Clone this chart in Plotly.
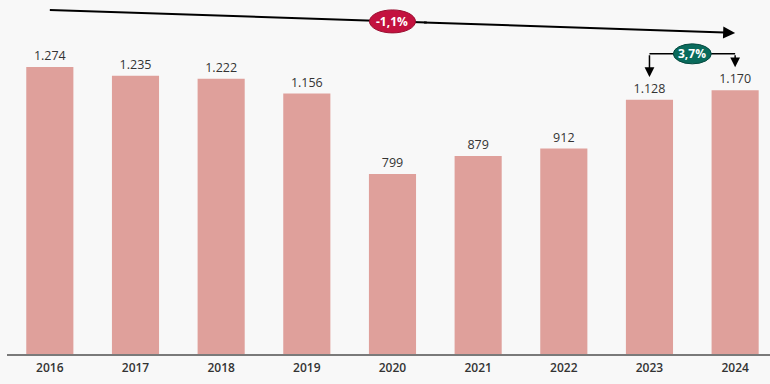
import plotly.graph_objects as go

years = ["2016", "2017", "2018", "2019", "2020", "2021", "2022", "2023", "2024"]
values = [1274, 1235, 1222, 1156, 799, 879, 912, 1128, 1170]
cagr_label = "-1,1%"
yoy_label = "3,7%"

BAR = "#dfa09b"
BG = "#f8f8f8"
TXT = "#333333"

fig = go.Figure()
fig.add_trace(go.Bar(
    x=list(range(len(years))), y=values,
    marker=dict(color=BAR, line=dict(width=0)),
    texttemplate="%{y:,}", textposition="outside",
    textfont=dict(family="Open Sans", size=12.5, color=TXT, weight=500),
    cliponaxis=False, width=0.55, hoverinfo="skip",
))

n = len(years)
y_top = 1527
y_end = 1425
def line_y(x):
    return y_top + (y_end - y_top) * x / (n - 1)

shapes = []
shapes.append(dict(type="line", xref="x", yref="y", x0=0, y0=line_y(0), x1=4.4, y1=line_y(4.4),
                   line=dict(color="black", width=2), layer="above"))
shapes.append(dict(type="circle", xref="x", yref="y", xsizemode="pixel", ysizemode="pixel",
                   xanchor=4.0, yanchor=line_y(4.0), x0=-23, x1=23, y0=-11.5, y1=11.5,
                   fillcolor="#c3123f", line=dict(color="#9a0e30", width=1), layer="above"))
yb = 1332
shapes.append(dict(type="line", xref="x", yref="y", x0=7, y0=yb, x1=8, y1=yb,
                   line=dict(color="black", width=1.5), layer="above"))
shapes.append(dict(type="circle", xref="x", yref="y", xsizemode="pixel", ysizemode="pixel",
                   xanchor=7.5, yanchor=yb, x0=-19, x1=19, y0=-10, y1=10,
                   fillcolor="#0a6b5c", line=dict(color="#064a40", width=1), layer="above"))

annotations = []
annotations.append(dict(x=8, y=line_y(8), ax=4.35, ay=line_y(4.35), xref="x", yref="y",
                        axref="x", ayref="y", text="", showarrow=True, arrowhead=2,
                        arrowsize=1.2, arrowwidth=2, arrowcolor="black"))
annotations.append(dict(x=4.0, y=line_y(4.0), xref="x", yref="y", text=f"<b>{cagr_label}</b>",
                        showarrow=False, font=dict(family="Open Sans", size=12, color="white")))
annotations.append(dict(x=7, y=1229, ax=7, ay=yb, xref="x", yref="y", axref="x", ayref="y",
                        text="", showarrow=True, arrowhead=2, arrowsize=1.3, arrowwidth=1.5,
                        arrowcolor="black"))
annotations.append(dict(x=8, y=1272, ax=8, ay=yb, xref="x", yref="y", axref="x", ayref="y",
                        text="", showarrow=True, arrowhead=2, arrowsize=1.3, arrowwidth=1.5,
                        arrowcolor="black"))
annotations.append(dict(x=7.5, y=yb, xref="x", yref="y", text=f"<b>{yoy_label}</b>",
                        showarrow=False, font=dict(family="Open Sans", size=12, color="white")))

fig.update_layout(
    width=770, height=384,
    margin=dict(l=7, r=0, t=0, b=30),
    paper_bgcolor=BG, plot_bgcolor=BG,
    separators=",.",
    showlegend=False,
    shapes=shapes, annotations=annotations,
    xaxis=dict(range=[-0.5, 8.407], tickmode="array", tickvals=list(range(n)), ticktext=years,
               showgrid=False, zeroline=False, showline=True, linecolor="#7a7a7a", linewidth=2,
               ticks="outside", ticklen=2, tickcolor=BG,
               tickfont=dict(family="Open Sans", size=12, color=TXT, weight=600), fixedrange=True),
    yaxis=dict(range=[0, 1571], visible=False, showgrid=False, zeroline=False, fixedrange=True),
)

fig.write_html("out.html", config={"displayModeBar": False},
               post_script="document.body.style.margin='0';document.body.style.overflow='hidden';document.body.style.background='#f8f8f8';")
